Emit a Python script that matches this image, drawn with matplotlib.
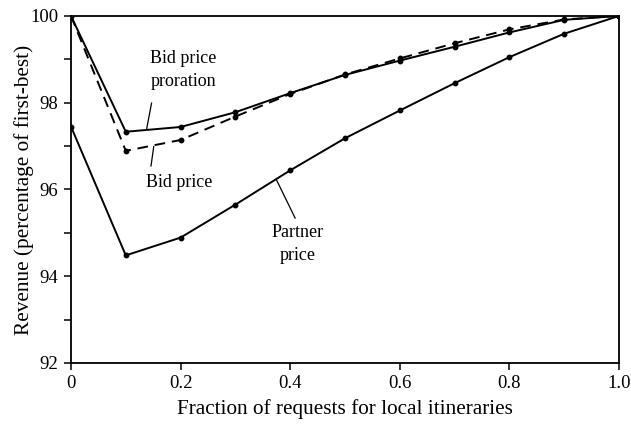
import matplotlib
matplotlib.use("Agg")
import matplotlib.pyplot as plt
import numpy as np

# Share of requests for local itineraries
frac_local = [0.0, 0.1, 0.2, 0.3, 0.4, 0.5, 0.6, 0.7, 0.8, 0.9, 1.0]

# Revenue as percentage of first-best
rev_bid_proration = [100.0, 97.33, 97.44, 97.78, 98.22, 98.64, 98.97, 99.29, 99.62, 99.91, 100.0]
rev_bid_price = [100.0, 96.89, 97.14, 97.68, 98.20, 98.65, 99.02, 99.37, 99.69, 99.92, 100.0]
rev_partner = [97.45, 94.48, 94.89, 95.65, 96.44, 97.18, 97.82, 98.45, 99.05, 99.59, 100.0]

plt.rcParams["font.family"] = ["Liberation Serif", "DejaVu Serif"]

fig = plt.figure(figsize=(6.31, 4.25), dpi=100)
ax = fig.add_axes([0.1125, 0.146, 0.8685, 0.8165])

style = dict(color="black", linewidth=1.4, marker="o", markersize=3.2)
ax.plot(frac_local, rev_bid_proration, linestyle="-", **style)
ax.plot(frac_local, rev_bid_price, linestyle=(0, (5.5, 3.5)), **style)
ax.plot(frac_local, rev_partner, linestyle="-", **style)

# Curve labels with short leader lines
lbl = dict(ha="center", va="center", fontsize=13, linespacing=1.45)
ax.text(0.205, 98.76, "Bid price\nproration", **lbl)
ax.plot([0.147, 0.138], [97.99, 97.39], color="black", linewidth=0.9)
ax.text(0.198, 96.15, "Bid price", **lbl)
ax.plot([0.151, 0.146], [96.99, 96.54], color="black", linewidth=0.9)
ax.text(0.413, 94.75, "Partner\nprice", **lbl)
ax.plot([0.375, 0.409], [96.22, 95.34], color="black", linewidth=0.9)

ax.set_xlim(0, 1.0)
ax.set_ylim(92, 100)
ax.set_xticks(np.arange(0, 1.01, 0.2))
ax.set_xticklabels(["0", "0.2", "0.4", "0.6", "0.8", "1.0"])
ax.set_yticks(np.arange(92, 100.1, 1))
ax.set_yticklabels(["92", "", "94", "", "96", "", "98", "", "100"])
ax.tick_params(direction="out", length=5, width=1.1, labelsize=13.5, pad=4)
for sp in ax.spines.values():
    sp.set_linewidth(1.3)

ax.set_xlabel("Fraction of requests for local itineraries", fontsize=15.3)
ax.set_ylabel("Revenue (percentage of first-best)", fontsize=15.3)
ax.xaxis.set_label_coords(0.5, -0.104)
ax.yaxis.set_label_coords(-0.068, 0.5)

fig.savefig("out.png", dpi=100)
plt.close(fig)
